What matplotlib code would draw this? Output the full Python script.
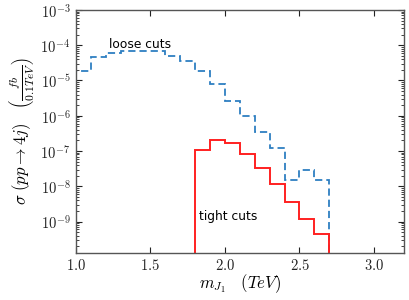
import numpy as np
import matplotlib
matplotlib.use('Agg')
import matplotlib.pyplot as plt
from matplotlib.ticker import FuncFormatter, LogLocator, NullFormatter

plt.rcParams['mathtext.fontset'] = 'cm'

# bin edges in TeV (0.1 TeV bins)
loose_edges = np.round(np.arange(1.0, 2.71, 0.1), 2)
loose_vals = [1.8e-5, 4.5e-5, 6.2e-5, 6.9e-5, 7.0e-5, 6.7e-5, 5.1e-5, 3.6e-5,
              1.8e-5, 8.2e-6, 2.6e-6, 1.0e-6, 3.5e-7, 1.2e-7, 1.5e-8, 2.9e-8, 1.5e-8]

tight_edges = np.round(np.arange(1.8, 2.71, 0.1), 2)
tight_vals = [1.1e-7, 2.0e-7, 1.65e-7, 8.5e-8, 3.4e-8, 1.2e-8, 3.7e-9, 1.2e-9, 4.5e-10]

xticks = [1.0, 1.5, 2.0, 2.5, 3.0]
yticks = [1e-9, 1e-8, 1e-7, 1e-6, 1e-5, 1e-4, 1e-3]

fig = plt.figure(figsize=(4.1, 3.0), dpi=100)
ax = fig.add_axes([0.185, 0.157, 0.8, 0.81])

ax.stairs(loose_vals, loose_edges, baseline=1e-12, color='#2e7fc1',
          linestyle=(0, (4, 2.2)), linewidth=1.3)
ax.stairs(tight_vals, tight_edges, baseline=1e-12, color='#ff2020', linewidth=1.4)

ax.set_yscale('log')
ax.set_xlim(1.0, 3.2)
ax.set_ylim(1.3e-10, 1e-3)
ax.set_xticks(xticks)
ax.set_yticks(yticks)
ax.xaxis.set_major_formatter(FuncFormatter(lambda v, p: r'$%.1f$' % v))
ax.yaxis.set_major_formatter(FuncFormatter(lambda v, p: r'$10^{%d}$' % round(np.log10(v))))
ax.yaxis.set_minor_locator(LogLocator(base=10, subs=np.arange(2, 10), numticks=20))
ax.yaxis.set_minor_formatter(NullFormatter())

ax.tick_params(which='both', direction='in', top=True, right=True,
               labelsize=10.5, colors='#222222')
ax.tick_params(which='major', length=4, width=0.8, pad=4)
ax.tick_params(which='minor', length=2, width=0.6)
for s in ax.spines.values():
    s.set_color('#555555')
    s.set_linewidth(1.0)

ax.text(1.43, 1.05e-4, 'loose cuts', ha='center', va='center', fontsize=8.8)
ax.text(2.02, 1.4e-9, 'tight cuts', ha='center', va='center', fontsize=8.8)

ax.set_xlabel(r'$m_{J_1}\quad (TeV)$', fontsize=12, labelpad=-1)
ax.set_ylabel(r'$\sigma\ (pp\rightarrow 4j)\quad \left(\frac{fb}{0.1TeV}\right)$',
              fontsize=12, labelpad=3)

fig.savefig('out.png', dpi=100)
